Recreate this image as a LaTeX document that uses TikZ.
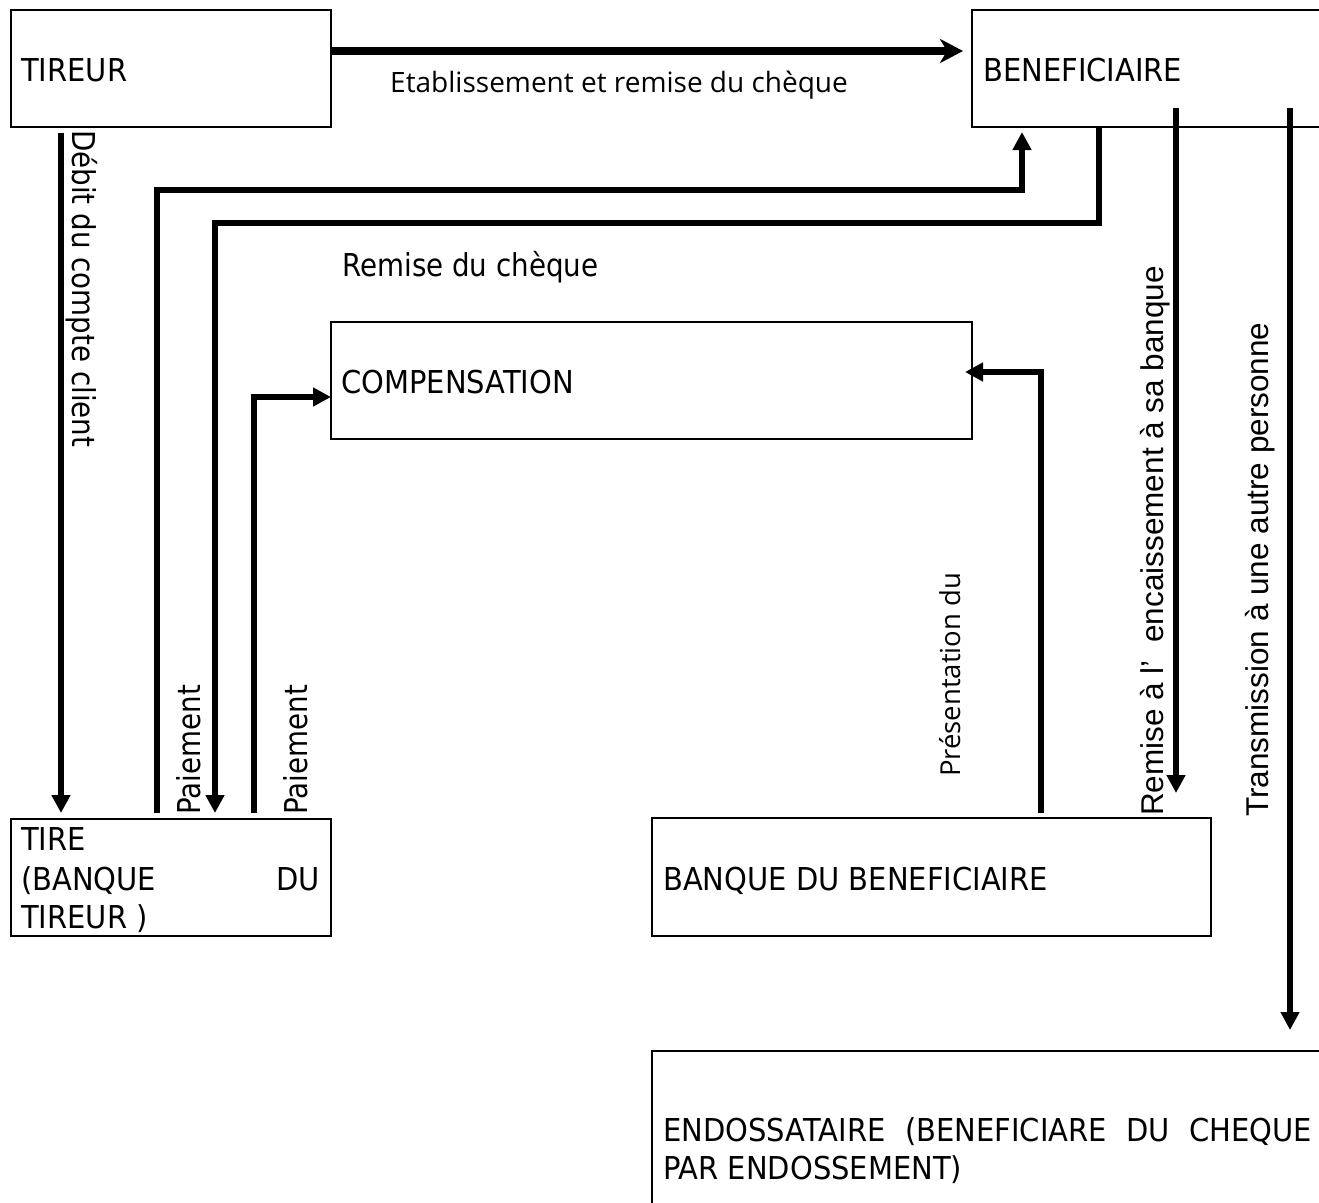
\documentclass[tikz,border=0pt]{standalone}
\usepackage{fontspec}
\setmainfont[FakeStretch=0.92]{DejaVu Sans}
\newfontfamily\lowf[FakeStretch=0.88]{DejaVu Sans}
\newfontfamily\arialf{Liberation Sans}
\newfontfamily\opensf{Open Sans}
\usetikzlibrary{arrows.meta}
\newcommand\mainsz{\fontsize{31.5}{39}\selectfont}
\begin{document}
\begin{tikzpicture}[x=1pt,y=-1pt,
  box/.style={draw, line width=2pt, inner sep=0pt, outer sep=0pt, anchor=north west},
  conn/.style={line width=6pt, -{Triangle[width=18pt,length=18pt]}},
  toparrow/.style={line width=8pt, -{Stealth[width=24pt,length=23pt,inset=7pt]}},
  txt/.style={inner sep=0pt, anchor=base west, font=\mainsz},
  lowtxt/.style={inner sep=0pt, anchor=base west, font=\mainsz\lowf},
  arialtxt/.style={inner sep=0pt, anchor=base west, font=\mainsz\arialf},
  smalltxt/.style={inner sep=0pt, anchor=base west, font=\fontsize{28}{34}\selectfont\opensf}]
\useasboundingbox (0,0) rectangle (1319,1202);
\clip (0,0) rectangle (1319,1202);
\fill[white] (0,0) rectangle (1319,1202);

% boxes
\node[box, minimum width=320pt, minimum height=117pt] (tireur) at (11,10) {};
\node[box, minimum width=360pt, minimum height=117pt] (benef) at (972,10) {};
\node[box, minimum width=641pt, minimum height=117pt] (comp) at (331,322) {};
\node[box, minimum width=320pt, minimum height=117pt] (tire) at (11,819) {};
\node[box, minimum width=559pt, minimum height=118pt] (banque) at (652,818) {};
\node[box, minimum width=690pt, minimum height=170pt] (endoss) at (652,1051) {};

% box texts
\node[txt] (tireurtxt) at (21,81) {TIREUR};
\node[txt] (beneftxt) at (983,81) {BENEFICIAIRE};
\node[txt] (comptxt) at (341,393) {COMPENSATION};
\node[txt] (tiretxta) at (21,850) {TIRE};
\node[txt] (tiretxtb) at (21,890) {\makebox[299pt][s]{(BANQUE\hfill DU}};
\node[txt] (tiretxtc) at (21,928) {TIREUR )};
\node[txt] (banquetxt) at (663,890) {BANQUE DU BENEFICIAIRE};
\node[txt] (endosstxta) at (663,1141) {\makebox[649pt][s]{ENDOSSATAIRE\hfill(BENEFICIARE\hfill DU\hfill CHEQUE}};
\node[txt] (endosstxtb) at (663,1179) {PAR ENDOSSEMENT)};

% connectors
\draw[toparrow] ([yshift=-41pt]tireur.north east) -- ([xshift=-9pt,yshift=-41pt]benef.north west);
\draw[conn] ([xshift=50pt,yshift=-6pt]tireur.south west) -- ([xshift=50pt,yshift=6pt]tire.north west);
\draw[conn] ([xshift=146pt,yshift=6pt]tire.north west) |- ([xshift=50pt,yshift=-63pt]benef.south west) -- ([xshift=50pt,yshift=-5pt]benef.south west);
\draw[conn] ([xshift=127pt]benef.south west) |- ([xshift=204pt,yshift=596pt]tire.north west) -- ([xshift=204pt,yshift=6pt]tire.north west);
\draw[conn] ([xshift=243pt,yshift=6pt]tire.north west) |- ([yshift=-75pt]comp.north west);
\draw[conn] ([xshift=389pt,yshift=5pt]banque.north west) |- ([xshift=-7pt,yshift=-50pt]comp.north east);
\draw[conn] ([xshift=204pt,yshift=-98pt]benef.north west) -- ([xshift=524pt,yshift=25pt]banque.north west);
\draw[conn] ([xshift=318pt,yshift=-98pt]benef.north west) -- ([xshift=638pt,yshift=21pt]endoss.north west);

% connector labels
\node[smalltxt] (lblEtab) at (390,92) {Etablissement et remise du chèque};
\node[lowtxt] (lblRemise) at (342,276) {Remise du chèque};
\node[lowtxt, rotate=-90] (lblDebit) at (72,130) {Débit du compte client};
\node[lowtxt, rotate=90] (lblPaiA) at (200,815) {Paiement};
\node[lowtxt, rotate=90] (lblPaiB) at (307,815) {Paiement};
\node[smalltxt, font=\fontsize{27.5}{33}\selectfont\opensf, rotate=90] (lblPres) at (960,777) {Présentation du};
\node[arialtxt, rotate=90] (lblEnc) at (1163,816) {Remise à l’\ \ encaissement à sa banque};
\node[arialtxt, rotate=90] (lblTrans) at (1268,817) {Transmission à une autre personne};
\end{tikzpicture}
\end{document}
